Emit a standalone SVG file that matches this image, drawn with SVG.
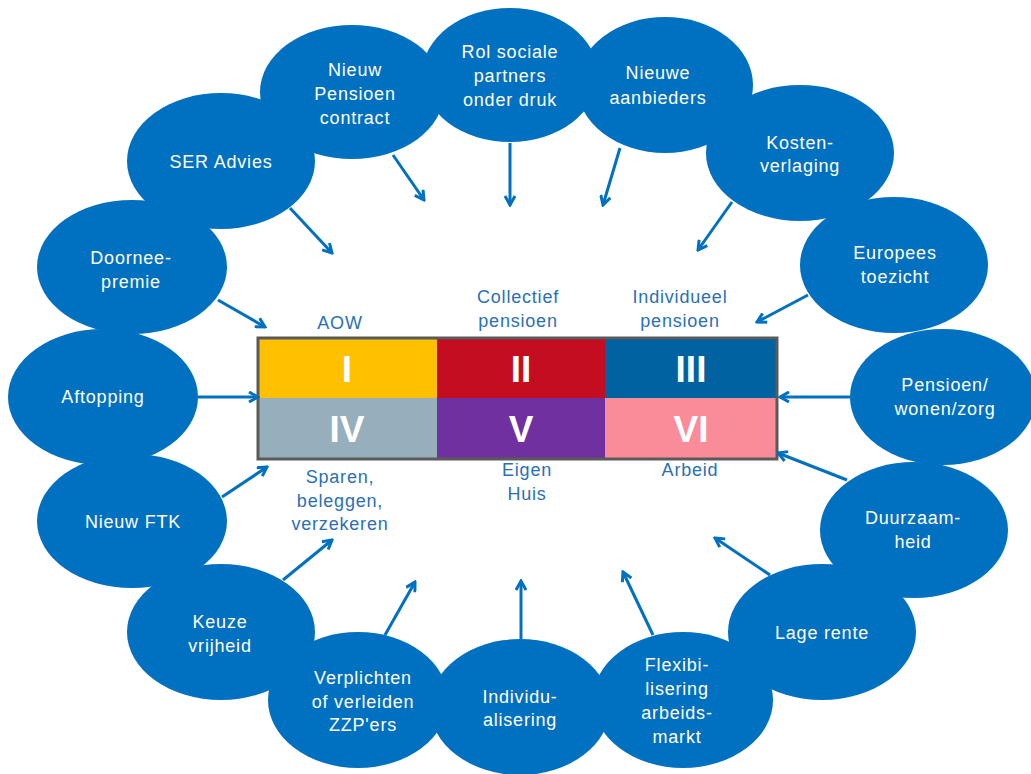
<svg xmlns="http://www.w3.org/2000/svg" width="1031" height="774" viewBox="0 0 1031 774">
<defs>
<style>
.bub{fill:#0070C0}
.bt{font-family:"Liberation Sans",Arial,sans-serif;font-size:18px;letter-spacing:0.8px;fill:#fff;text-anchor:middle}
.lb{font-family:"Liberation Sans",Arial,sans-serif;font-size:18px;letter-spacing:0.8px;fill:#2a70b5;text-anchor:middle}
.rn{font-family:"Liberation Sans",Arial,sans-serif;font-size:37px;font-weight:bold;fill:#fff;text-anchor:middle}
.ar{stroke:#0070C0;stroke-width:3;fill:none;marker-end:url(#ah)}
</style>
<marker id="ah" viewBox="0 0 12 12" refX="10" refY="6" markerWidth="12" markerHeight="12" markerUnits="userSpaceOnUse" orient="auto">
<path d="M1,1 L10,6 L1,11" fill="none" stroke="#0070C0" stroke-width="3"/>
</marker>
</defs>
<rect width="1031" height="774" fill="#fff"/>

<g id="n-nieuw-pensioen"><ellipse class="bub" cx="352" cy="92" rx="92" ry="67"/><text class="bt" x="355" y="76">Nieuw</text><text class="bt" x="355" y="100">Pensioen</text><text class="bt" x="355" y="124">contract</text></g>
<g id="n-rol-sociale"><ellipse class="bub" cx="510" cy="75" rx="88" ry="67"/><text class="bt" x="510" y="58">Rol sociale</text><text class="bt" x="510" y="82">partners</text><text class="bt" x="510" y="106">onder druk</text></g>
<g id="n-nieuwe-aanbieders"><ellipse class="bub" cx="665" cy="85" rx="88" ry="68"/><text class="bt" x="658" y="79">Nieuwe</text><text class="bt" x="658" y="104">aanbieders</text></g>
<g id="n-kosten"><ellipse class="bub" cx="800" cy="153" rx="94" ry="68"/><text class="bt" x="800" y="149">Kosten-</text><text class="bt" x="800" y="172">verlaging</text></g>
<g id="n-europees"><ellipse class="bub" cx="894" cy="265" rx="94" ry="68"/><text class="bt" x="895" y="259">Europees</text><text class="bt" x="895" y="283">toezicht</text></g>
<g id="n-pensioen-wonen"><ellipse class="bub" cx="943" cy="397" rx="93" ry="68"/><text class="bt" x="945" y="391">Pensioen/</text><text class="bt" x="945" y="415">wonen/zorg</text></g>
<g id="n-duurzaam"><ellipse class="bub" cx="914" cy="530" rx="94" ry="68"/><text class="bt" x="913" y="524">Duurzaam-</text><text class="bt" x="913" y="548">heid</text></g>
<g id="n-lage-rente"><ellipse class="bub" cx="822" cy="632" rx="94" ry="68"/><text class="bt" x="822" y="639">Lage rente</text></g>
<g id="n-flex"><ellipse class="bub" cx="683" cy="700" rx="90" ry="68"/><text class="bt" x="677" y="671">Flexibi-</text><text class="bt" x="677" y="695">lisering</text><text class="bt" x="677" y="719">arbeids-</text><text class="bt" x="677" y="743">markt</text></g>
<g id="n-individu"><ellipse class="bub" cx="520" cy="707" rx="90" ry="68"/><text class="bt" x="520" y="703">Individu-</text><text class="bt" x="520" y="726">alisering</text></g>
<g id="n-verplichten"><ellipse class="bub" cx="358" cy="700" rx="90" ry="68"/><text class="bt" x="363" y="684">Verplichten</text><text class="bt" x="363" y="708">of verleiden</text><text class="bt" x="363" y="731">ZZP'ers</text></g>
<g id="n-keuze"><ellipse class="bub" cx="221" cy="632" rx="94" ry="68"/><text class="bt" x="220" y="628">Keuze</text><text class="bt" x="220" y="652">vrijheid</text></g>
<g id="n-ftk"><ellipse class="bub" cx="132" cy="521" rx="95" ry="67"/><text class="bt" x="133" y="528">Nieuw FTK</text></g>
<g id="n-aftopping"><ellipse class="bub" cx="103" cy="397" rx="95" ry="68"/><text class="bt" x="103" y="403">Aftopping</text></g>
<g id="n-doornee"><ellipse class="bub" cx="132" cy="267" rx="95" ry="67"/><text class="bt" x="131" y="264">Doornee-</text><text class="bt" x="131" y="288">premie</text></g>
<g id="n-ser"><ellipse class="bub" cx="221" cy="161" rx="94" ry="68"/><text class="bt" x="221" y="168">SER Advies</text></g>

<g id="table">
<rect x="258" y="338" width="179" height="60" fill="#FFC000"/>
<rect x="437" y="338" width="168" height="60" fill="#C50D22"/>
<rect x="605" y="338" width="172" height="60" fill="#0062A0"/>
<rect x="258" y="398" width="179" height="61" fill="#97AEBC"/>
<rect x="437" y="398" width="168" height="61" fill="#7030A0"/>
<rect x="605" y="398" width="172" height="61" fill="#F98C98"/>
<rect x="258" y="338" width="519" height="121" fill="none" stroke="#5a5a5a" stroke-width="3"/>
<text class="rn" x="347" y="382">I</text>
<text class="rn" x="521" y="382">II</text>
<text class="rn" x="691" y="382">III</text>
<text class="rn" x="347" y="442">IV</text>
<text class="rn" x="521" y="442">V</text>
<text class="rn" x="691" y="442">VI</text>
</g>

<g id="labels">
<text class="lb" x="340" y="329">AOW</text>
<text class="lb" x="518" y="303">Collectief</text>
<text class="lb" x="518" y="327">pensioen</text>
<text class="lb" x="680" y="303">Individueel</text>
<text class="lb" x="680" y="327">pensioen</text>
<text class="lb" x="340" y="483">Sparen,</text>
<text class="lb" x="340" y="507">beleggen,</text>
<text class="lb" x="340" y="530">verzekeren</text>
<text class="lb" x="527" y="476">Eigen</text>
<text class="lb" x="527" y="500">Huis</text>
<text class="lb" x="690" y="476">Arbeid</text>
</g>

<g id="connectors">
<line class="ar" x1="393" y1="155" x2="424" y2="200"/>
<line class="ar" x1="510" y1="143" x2="510" y2="205"/>
<line class="ar" x1="620" y1="148" x2="603" y2="205"/>
<line class="ar" x1="732" y1="202" x2="698" y2="250"/>
<line class="ar" x1="808" y1="295" x2="757" y2="322"/>
<line class="ar" x1="850" y1="397" x2="780" y2="397"/>
<line class="ar" x1="847" y1="480" x2="778" y2="453"/>
<line class="ar" x1="770" y1="575" x2="715" y2="538"/>
<line class="ar" x1="653" y1="635" x2="623" y2="572"/>
<line class="ar" x1="521" y1="640" x2="521" y2="581"/>
<line class="ar" x1="385" y1="635" x2="415" y2="582"/>
<line class="ar" x1="283" y1="580" x2="332" y2="540"/>
<line class="ar" x1="222" y1="497" x2="267" y2="467"/>
<line class="ar" x1="198" y1="397" x2="258" y2="397"/>
<line class="ar" x1="218" y1="300" x2="265" y2="327"/>
<line class="ar" x1="290" y1="208" x2="332" y2="253"/>
</g>
</svg>
